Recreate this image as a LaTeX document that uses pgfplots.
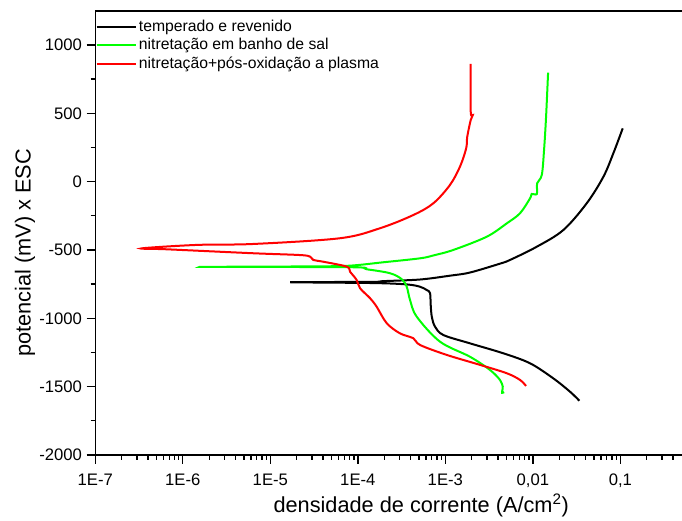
\documentclass[border=0pt]{standalone}
\usepackage{fontspec}
\setmainfont{Liberation Sans}
\usepackage{pgfplots}
\pgfplotsset{compat=1.18}
\begin{document}
\begin{tikzpicture}
\useasboundingbox (-71.5pt,-49.5pt) rectangle (440pt,341.25pt);
\begin{axis}[
  at={(0,0)}, anchor=south west,
  scale only axis,
  width=439.65pt, height=333.15pt,
  xmode=log,
  xmin=1e-7, xmax=0.5,
  ymin=-2000, ymax=1250,
  axis x line=box, axis y line*=left,
  axis line style={line width=1.2pt},
  xtick pos=bottom, ytick pos=left,
  tick align=outside,
  major tick length=6.5pt, minor tick length=3.5pt,
  tick style={line width=1pt, black},
  xtick={1e-7,1e-6,1e-5,1e-4,1e-3,1e-2,1e-1},
  xticklabels={1E-7,1E-6,1E-5,1E-4,1E-3,{0,01},{0,1}},
  minor xtick={2e-7,3e-7,4e-7,5e-7,6e-7,7e-7,8e-7,9e-7,
    2e-6,3e-6,4e-6,5e-6,6e-6,7e-6,8e-6,9e-6,
    2e-5,3e-5,4e-5,5e-5,6e-5,7e-5,8e-5,9e-5,
    2e-4,3e-4,4e-4,5e-4,6e-4,7e-4,8e-4,9e-4,
    2e-3,3e-3,4e-3,5e-3,6e-3,7e-3,8e-3,9e-3,
    0.02,0.03,0.04,0.05,0.06,0.07,0.08,0.09,
    0.2,0.3,0.4},
  ytick={-2000,-1500,-1000,-500,0,500,1000},
  yticklabels={-2000,-1500,-1000,-500,0,500,1000},
  minor y tick num=1,
  tick label style={font=\fontsize{12.5}{14}\selectfont},
  xticklabel style={yshift=-4pt},
  xlabel={densidade de corrente (A/cm\textsuperscript{2})},
  ylabel={potencial (mV) x ESC},
  label style={font=\fontsize{16.3}{19}\selectfont},
  xlabel style={at={(rel axis cs:0.556,-0.113)}, anchor=center},
  ylabel style={at={(rel axis cs:-0.12,0.455)}, anchor=center},
  legend style={at={(rel axis cs:0,1)}, anchor=north west, draw=none, fill=none,
    inner xsep=0pt, inner ysep=0pt, font=\fontsize{11.8}{13.5}\selectfont,
    row sep=0.6pt, yshift=-5.5pt, nodes={inner sep=1.5pt}},
  legend cell align=left,
  legend image code/.code={\draw[#1] (-1.5pt,0pt) -- (28pt,0pt);},
  every axis plot/.append style={line width=1.5pt, smooth, tension=0.55},
]
% temperado e revenido
\addplot[black] coordinates {
(0.0340,-1603) (0.0266,-1537) (0.0171,-1439) (0.00929,-1329) (0.00460,-1256)
(0.00191,-1183) (0.000948,-1122) (0.000762,-1061) (0.000700,-988) (0.000680,-900)
(0.000668,-815) (0.000612,-793) (0.000514,-769) (0.000362,-752) (0.00015,-742)
(1.68e-5,-736) (0.00015,-733) (0.000195,-728) (0.000514,-716) (0.00113,-688)
(0.00191,-665) (0.00421,-600) (0.00548,-573) (0.0111,-476) (0.0223,-354)
(0.0413,-158) (0.0640,36) (0.0832,208) (0.1064,390)
};
% nitretacao em banho de sal
\addplot[green] coordinates {
(0.00470,-1540) (0.00445,-1545) (0.00450,-1520) (0.00453,-1500) (0.00421,-1451)
(0.00324,-1378) (0.00191,-1281) (0.000869,-1171) (0.000471,-988) (0.000395,-866)
(0.000362,-769) (0.000318,-714) (0.000233,-670) (0.000126,-641) (8.15e-5,-626)
(1.55e-6,-624) (3e-5,-620) (8e-5,-615) (0.000195,-590) (0.000514,-561)
(0.00073,-540) (0.00123,-500) (0.00297,-403) (0.00504,-305) (0.00714,-231)
(0.00929,-122) (0.00971,-90) (0.0111,-90) (0.0112,-12) (0.01265,49)
(0.01343,232) (0.01416,475) (0.01493,797)
};
% nitretacao + pos-oxidacao a plasma
\addplot[red] coordinates {
(0.00835,-1495) (0.00714,-1451) (0.00504,-1402) (0.00250,-1341) (0.00104,-1268)
(0.000514,-1195) (0.000431,-1146) (0.000303,-1110) (0.000214,-1036) (0.000164,-915)
(0.000138,-853) (0.000106,-780) (9.7e-5,-720) (8.15e-5,-659) (7.46e-5,-622)
(4.04e-5,-586) (3.10e-5,-573) (2.85e-5,-549) (2.18e-5,-537) (6.4e-6,-524)
(6.55e-7,-495) (3.4e-7,-488) (1.44e-6,-463) (6.4e-6,-456) (6.27e-5,-414)
(0.000179,-341) (0.000431,-244) (0.00073,-158) (0.00113,-24) (0.00147,110)
(0.00173,244) (0.00178,329) (0.00195,451) (0.00206,488) (0.00195,512) (0.00195,861)
};
\legend{temperado e revenido,nitretação em banho de sal,nitretação+pós-oxidação a plasma}
\end{axis}
\end{tikzpicture}
\end{document}
